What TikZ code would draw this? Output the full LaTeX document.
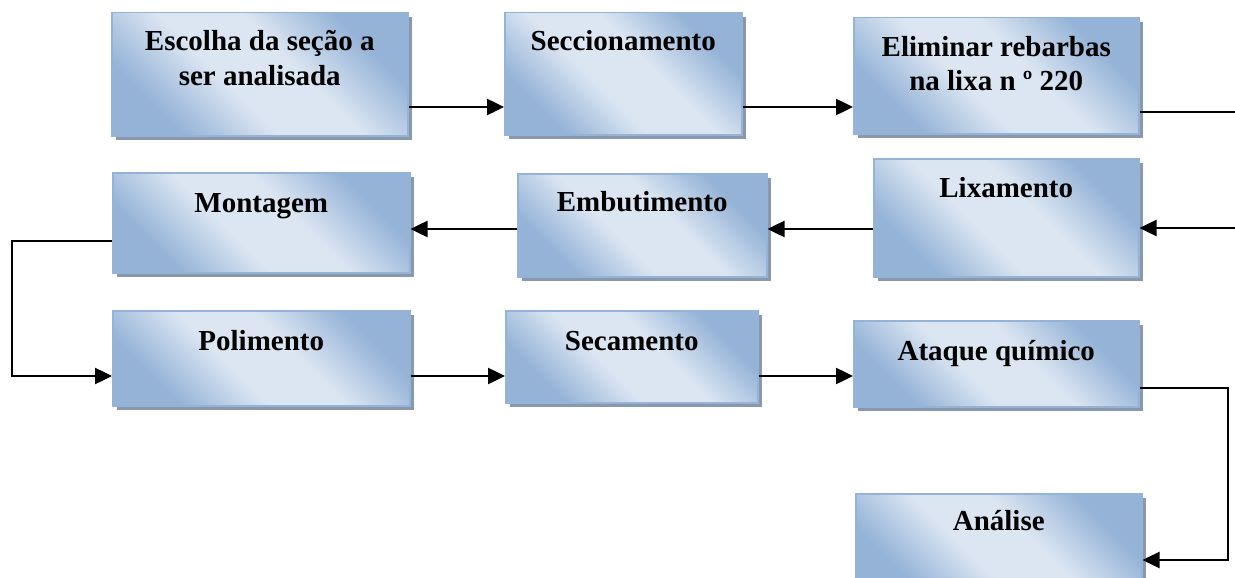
\documentclass[tikz,border=0pt]{standalone}
\usepackage{fontspec}
\setmainfont{Liberation Serif}
\usetikzlibrary{arrows.meta,shadows}
\definecolor{boxdark}{HTML}{95B3D7}
\definecolor{boxlight}{HTML}{DCE6F2}
\definecolor{boxshadow}{HTML}{8A98AD}
% diagonal fill: darker corners, broad light band through the middle
\pgfdeclareverticalshading{stepshade}{100bp}{%
  color(0bp)=(boxdark); color(27bp)=(boxdark); color(43bp)=(boxlight);
  color(57bp)=(boxlight); color(73bp)=(boxdark); color(100bp)=(boxdark)}
\tikzset{
  stepbox/.style={draw=boxdark, line width=1.5pt,
    shading=stepshade, shading angle=-45,
    general shadow={fill=boxshadow, shadow xshift=4pt, shadow yshift=-4pt},
    anchor=north west, inner sep=0pt},
  steptext/.style={anchor=base, align=center, inner sep=0pt,
    font=\fontsize{29}{35}\selectfont\bfseries},
  flow/.style={line width=2.5pt, -{Triangle[length=17pt,width=16pt]}},
  link/.style={line width=2.5pt},
}
\begin{document}
\begin{tikzpicture}[x=1pt,y=-1pt]
\useasboundingbox (0,0) rectangle (1235,578);
\clip (0,0) rectangle (1235,578);

% process boxes
\node[stepbox, minimum width=296pt, minimum height=123pt] (b1) at (111,12) {};
\node[stepbox, minimum width=237pt, minimum height=122pt] (b2) at (504,12) {};
\node[stepbox, minimum width=285pt, minimum height=116pt] (b3) at (853,17) {};
\node[stepbox, minimum width=297pt, minimum height=100pt] (b4) at (112,172) {};
\node[stepbox, minimum width=249pt, minimum height=103pt] (b5) at (517,173) {};
\node[stepbox, minimum width=265pt, minimum height=118pt] (b6) at (873,158) {};
\node[stepbox, minimum width=297pt, minimum height=95pt]  (b7) at (112,310) {};
\node[stepbox, minimum width=252pt, minimum height=92pt]  (b8) at (505,310) {};
\node[stepbox, minimum width=285pt, minimum height=86pt]  (b9) at (853,320) {};
\node[stepbox, minimum width=286pt, minimum height=100pt] (b10) at (855,493) {};

% captions (the base anchor of a two-line caption is its last line)
\node[steptext] (t1) at ([yshift=-73pt]b1.north) {Escolha da seção a\\ser analisada};
\node[steptext] (t2) at ([yshift=-39pt]b2.north) {Seccionamento};
\node[steptext] (t3) at ([yshift=-74pt]b3.north) {Eliminar rebarbas\\na lixa n º 220};
\node[steptext] (t4) at ([yshift=-40pt]b4.north) {Montagem};
\node[steptext] (t5) at ([yshift=-38pt]b5.north) {Embutimento};
\node[steptext] (t6) at ([yshift=-39pt]b6.north) {Lixamento};
\node[steptext] (t7) at ([yshift=-40pt]b7.north) {Polimento};
\node[steptext] (t8) at ([yshift=-40pt]b8.north) {Secamento};
\node[steptext] (t9) at ([yshift=-40pt]b9.north) {Ataque químico};
\node[steptext] (t10) at ([yshift=-37pt]b10.north) {Análise};

% connector levels and free ends
\coordinate (yA) at (0,107);
\coordinate (outA) at (1235,112);
\coordinate (inB) at (1235,228);
\coordinate (yB) at (0,229);
\coordinate (loopL) at (12,241);
\coordinate (yP) at (0,376);
\coordinate (loopR) at (1228,388);
\coordinate (yQ) at (0,560);

% first row
\draw[flow] (b1.east |- yA) -- (b2.west |- yA);
\draw[flow] (b2.east |- yA) -- (b3.west |- yA);
\draw[link] (b3.east |- outA) -- (outA);

% second row, right to left
\draw[flow] (inB) -- (b6.east |- inB);
\draw[flow] (b6.west |- yB) -- (b5.east |- yB);
\draw[flow] (b5.west |- yB) -- (b4.east |- yB);

% return to the third row
\draw[flow] (b4.west |- loopL) -- (loopL) |- (b7.west |- yP);
\draw[flow] (b7.east |- yP) -- (b8.west |- yP);
\draw[flow] (b8.east |- yP) -- (b9.west |- yP);

% down to the analysis
\draw[flow] (b9.east |- loopR) -- (loopR) |- (b10.east |- yQ);
\end{tikzpicture}
\end{document}
